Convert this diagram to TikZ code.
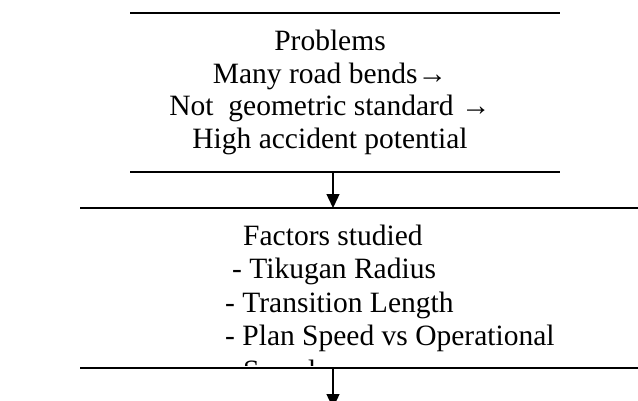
\documentclass[tikz,border=0pt]{standalone}
\usepackage{fontspec}
\setmainfont{Liberation Serif}
\usetikzlibrary{arrows.meta}
\begin{document}
\begin{tikzpicture}[x=1pt,y=-1pt,
  region/.style={draw=none,inner sep=0pt,outer sep=0pt,minimum width=#1},
  rule/.style={line width=1.6pt,black},
  txt/.style={inner sep=0pt,anchor=base,font=\fontsize{29.5}{33}\selectfont},
  txtl/.style={inner sep=0pt,anchor=base west,font=\fontsize{29.5}{33}\selectfont},
  conn/.style={line width=1.4pt,-{Triangle[length=14pt,width=13pt]}}]
\useasboundingbox (0,0) rectangle (638,400);
% region nodes (boxes without side borders)
\node[region=430pt,minimum height=159pt] (prob) at (345,92.5) {};
\node[region=560pt,minimum height=160pt] (fact) at (360,288) {};
\draw[rule] (prob.north west) -- (prob.north east);
\draw[rule] (prob.south west) -- (prob.south east);
\draw[rule] (fact.north west) -- (fact.north east);
\draw[rule] (fact.south west) -- (fact.south east);
% texts of the first box
\node[txt] (p1) at (330,50) {Problems};
\node[txt] (p2) at (330,83) {Many road bends→};
\node[txt] (p3) at (330,115.5) {Not\ \ geometric standard →};
\node[txt] (p4) at (330,148) {High accident potential};
% texts of the second box
\node[txtl] (f1) at (243,245) {Factors studied};
\node[txtl] (f2) at (232,278) {- Tikugan Radius};
\node[txtl] (f3) at (225,312) {- Transition Length};
\node[txtl] (f4) at (225,345) {- Plan Speed vs Operational};
\begin{scope}
\clip (80,350) rectangle (638,365);
\node[txtl] (f5) at (243,380) {Speed};
\end{scope}
% connectors
\coordinate (out) at (333,408);
\draw[conn] (prob.south -| 333,0) -- (fact.north -| 333,0);
\draw[conn] (fact.south -| 333,0) -- (out);
\end{tikzpicture}
\end{document}
